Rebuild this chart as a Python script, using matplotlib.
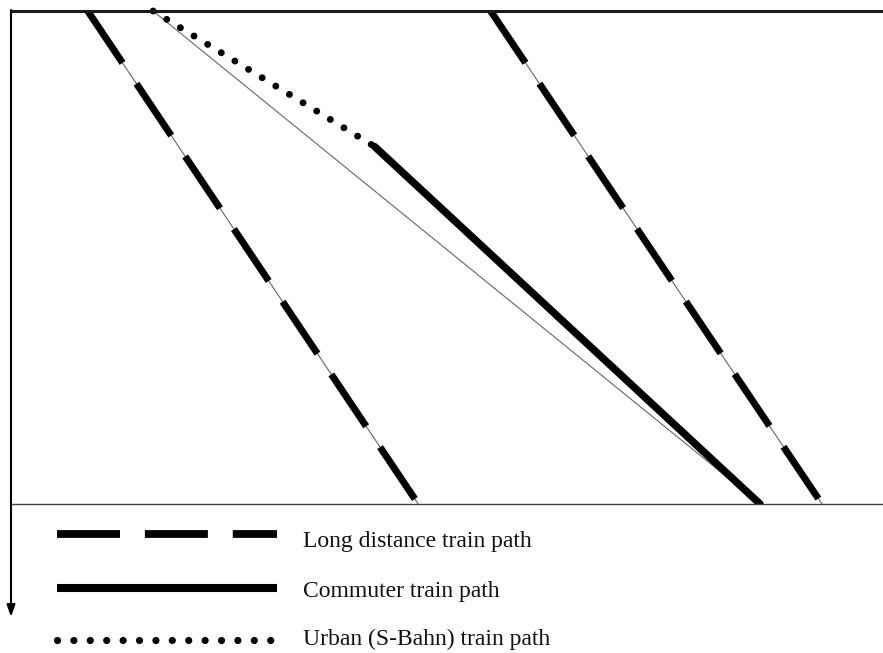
import matplotlib
matplotlib.use("Agg")
from matplotlib import pyplot as plt
from matplotlib.lines import Line2D

plt.rcParams['font.family'] = ['Liberation Serif', 'DejaVu Serif']

# distance along the line (km) and time (min), time runs downwards
dist_range = [0, 100]
time_range = [0, 60]

ld_start_km = [8.8, 55.0]
ld_end_km = [46.7, 93.0]
ld_min = [0, 60]

urban_km = [16.3, 41.7]
urban_min = [0, 16.5]

commuter_km = [41.7, 85.9]
commuter_min = [16.5, 60]

# thin construction line under the urban + commuter path
direct_km = [16.3, 85.9]
direct_min = [0, 60]

labels = ['Long distance train path', 'Commuter train path', 'Urban (S-Bahn) train path']

W, H = 883, 653
fig = plt.figure(figsize=(W / 100, H / 100), dpi=100)

def px(x, y):
    return x / W, 1 - y / H

ax = fig.add_axes([11 / W, 1 - 504 / H, 872 / W, 493 / H])
ax.set_xlim(*dist_range)
ax.set_ylim(time_range[1], time_range[0])
ax.set_xticks([])
ax.set_yticks([])
for s in ['right', 'left']:
    ax.spines[s].set_visible(False)
ax.spines['top'].set_linewidth(2.2)
ax.spines['top'].set_color('#1a1a1a')
ax.spines['bottom'].set_linewidth(1.0)
ax.spines['bottom'].set_color('#444444')

lw = 5.0
dash = (0, (9.0, 3.6))
dots = (0, (0.001, 2.3))

for x0, x1 in zip(ld_start_km, ld_end_km):
    ax.plot([x0, x1], ld_min, color='#666666', lw=0.8)
    ax.plot([x0, x1], ld_min, color='black', lw=lw, linestyle=dash,
            dash_capstyle='butt')

ax.plot(direct_km, direct_min, color='#666666', lw=0.8)
ax.plot(urban_km, urban_min, color='black', lw=lw, linestyle=dots,
        dash_capstyle='round', clip_on=False)
ax.plot(commuter_km, commuter_min, color='black', lw=lw + 0.4,
        solid_capstyle='round')

# time axis with arrow, running below the plot
ax.annotate('', xy=(0, -0.229), xycoords='axes fraction', xytext=(0, 1.002),
            textcoords='axes fraction', annotation_clip=False,
            arrowprops=dict(arrowstyle='-|>,head_length=0.7,head_width=0.25',
                            lw=1.5, color='black', shrinkA=0, shrinkB=0,
                            mutation_scale=10))

# legend drawn by hand under the diagram
key_y = [534, 588, 640]
text_y = [547, 597, 645]
key_lw = [5.6, 5.8, 5.2]
key_styles = [dict(linestyle=(0, (8.1, 3.2)), dash_capstyle='butt'),
              dict(linestyle='-', solid_capstyle='butt'),
              dict(linestyle=(0, (0.001, 2.27)), dash_capstyle='round')]
key_end = [277, 277, 272]
for lab, ky, ty, klw, st, ke in zip(labels, key_y, text_y, key_lw, key_styles, key_end):
    (xa, ya), (xb, yb) = px(57, ky), px(ke, ky)
    fig.add_artist(Line2D([xa, xb], [ya, yb], color='black', lw=klw, **st))
    tx, tyf = px(303, ty)
    fig.text(tx, tyf, lab, fontsize=17, va='baseline', ha='left', color='#111111')

fig.savefig('out.png', dpi=100)
